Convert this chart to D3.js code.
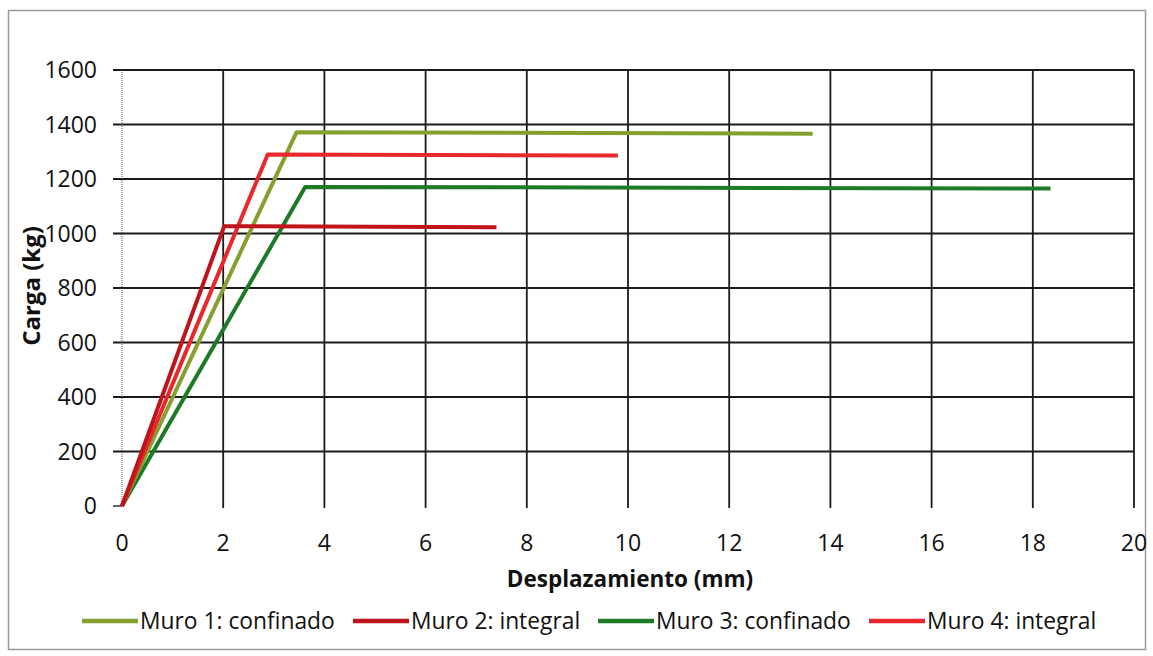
<!DOCTYPE html>
<html><head><meta charset="utf-8">
<script src="https://cdn.jsdelivr.net/npm/d3@7"></script>
<style>body{margin:0;background:#fff}svg{display:block}text{font-family:"Open Sans",Lato,sans-serif;fill:#111}</style>
</head><body><svg id="c" width="1153" height="656"></svg>
<script>
const seriesNames = ["Muro 1: confinado","Muro 2: integral","Muro 3: confinado","Muro 4: integral"];
const seriesColors = ["#86a030","#c0141c","#1f7a25","#e8282a"];
const muro1 = [[0,0],[3.45,1372],[13.65,1366]];
const muro2 = [[0,0],[2.02,1027],[7.4,1023]];
const muro3 = [[0,0],[3.62,1171],[18.35,1165]];
const muro4 = [[0,0],[2.88,1290],[9.8,1286]];
const xTicks = [0,2,4,6,8,10,12,14,16,18,20];
const yTicks = [0,200,400,600,800,1000,1200,1400,1600];
const allSeries = [muro1,muro2,muro3,muro4];

const svg = d3.select("#c");
svg.append("rect").attr("x",8.5).attr("y",10.5).attr("width",1137).attr("height",639)
  .attr("fill","#fff").attr("stroke","#9a9a9a").attr("stroke-width",1.5);
const x = d3.scaleLinear().domain([0,20]).range([122,1134]);
const y = d3.scaleLinear().domain([0,1600]).range([506,70]);

const g = svg.append("g");
g.selectAll(".hg").data(yTicks.filter(d=>d>0)).join("line")
  .attr("x1",113).attr("x2",x(20)).attr("y1",d=>y(d)).attr("y2",d=>y(d))
  .attr("stroke","#1a1a1a").attr("stroke-width",1.8);
g.append("line").attr("x1",113).attr("x2",122).attr("y1",y(0)).attr("y2",y(0)).attr("stroke","#333").attr("stroke-width",1.5);
g.selectAll(".vg").data(xTicks.filter(d=>d>0)).join("line")
  .attr("x1",d=>x(d)).attr("x2",d=>x(d)).attr("y1",y(1600)).attr("y2",y(0)+2)
  .attr("stroke","#1a1a1a").attr("stroke-width",1.8);
g.append("line").attr("x1",x(0)).attr("x2",x(0)).attr("y1",y(1600)).attr("y2",y(0))
  .attr("stroke","#555").attr("stroke-width",1).attr("stroke-dasharray","1,1");

g.selectAll(".yl").data(yTicks).join("text")
  .attr("x",97).attr("y",d=>y(d)).attr("dy","0.36em").attr("text-anchor","end")
  .attr("font-size",23).text(d=>d);
g.selectAll(".xl").data(xTicks).join("text")
  .attr("x",d=>x(d)).attr("y",543).attr("dy","0.36em").attr("text-anchor","middle")
  .attr("font-size",23).text(d=>d);

svg.append("text").attr("x",630).attr("y",579).attr("dy","0.36em").attr("text-anchor","middle")
  .attr("font-size",22.5).attr("font-weight","bold").text("Desplazamiento (mm)");
svg.append("text").attr("transform","translate(31,286) rotate(-90)").attr("dy","0.36em")
  .attr("text-anchor","middle").attr("font-size",24).attr("font-weight","bold").text("Carga (kg)");

const line = d3.line().x(d=>x(d[0])).y(d=>y(d[1]));
const order = [2,0,3,1];
order.forEach(i=>{
  svg.append("path").attr("d",line(allSeries[i])).attr("fill","none")
    .attr("stroke",seriesColors[i]).attr("stroke-width",4).attr("stroke-linejoin","round");
});

const legX = [82,353,598,869];
const lg = svg.append("g");
seriesNames.forEach((n,i)=>{
  lg.append("line").attr("x1",legX[i]).attr("x2",legX[i]+56).attr("y1",621).attr("y2",621)
    .attr("stroke",seriesColors[i]).attr("stroke-width",4.5);
  lg.append("text").attr("x",legX[i]+58).attr("y",621).attr("dy","0.36em").attr("font-size",22.8).text(n);
});
</script></body></html>
